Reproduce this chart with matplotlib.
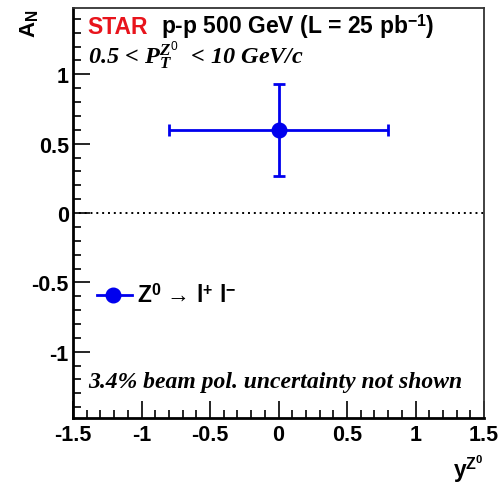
import matplotlib
matplotlib.use("Agg")
import matplotlib.pyplot as plt
from matplotlib.ticker import MultipleLocator

# Z0 -> l+ l- transverse single-spin asymmetry
y_z = [0.0]
y_z_err = [0.8]
a_n = [0.6]
a_n_err = [0.33]

x_ticks = [-1.5, -1, -0.5, 0, 0.5, 1, 1.5]
x_tick_labels = ["-1.5", "-1", "-0.5", "0", "0.5", "1", "1.5"]
y_ticks = [-1, -0.5, 0, 0.5, 1]
y_tick_labels = ["-1", "-0.5", "0", "0.5", "1"]

sans = ["Liberation Sans", "DejaVu Sans"]
serif = ["Liberation Serif", "DejaVu Serif"]
plt.rcParams["mathtext.fontset"] = "custom"
plt.rcParams["mathtext.rm"] = "Liberation Sans"
plt.rcParams["mathtext.bf"] = "Liberation Sans:bold"
plt.rcParams["mathtext.it"] = "Liberation Serif:bold:italic"

fig = plt.figure(figsize=(5.0, 4.89), dpi=100)
ax = fig.add_axes([0.146, 0.1431, 0.822, 0.8384])

ax.set_xlim(-1.5, 1.5)
ax.set_ylim(-1.478, 1.478)

ax.axhline(0, color="black", linestyle=(0, (1, 2)), linewidth=1.4, zorder=1)

blue = "#0000ee"
ax.errorbar(y_z, a_n, xerr=y_z_err, yerr=a_n_err, fmt="o", color=blue,
            markersize=10.5, elinewidth=2, capsize=4.3, capthick=2, zorder=3)

ax.set_xticks(x_ticks)
ax.set_xticklabels(x_tick_labels)
ax.set_yticks(y_ticks)
ax.set_yticklabels(y_tick_labels)
ax.xaxis.set_minor_locator(MultipleLocator(0.1))
ax.yaxis.set_minor_locator(MultipleLocator(0.1))
ax.tick_params(which="both", direction="in", top=False, right=False,
               width=1.2)
ax.tick_params(which="major", length=12)
ax.tick_params(which="minor", length=6)
ax.tick_params(axis="x", pad=4)
ax.tick_params(axis="y", pad=3)
for lab in ax.get_xticklabels() + ax.get_yticklabels():
    lab.set_fontfamily(sans)
    lab.set_fontweight("bold")
    lab.set_fontsize(15.5)
for side in ["left", "bottom"]:
    ax.spines[side].set_linewidth(2.0)
for side in ["top", "right"]:
    ax.spines[side].set_linewidth(1.3)
    ax.spines[side].set_color("#333333")

# Header texts
ax.text(0.036, 0.956, "STAR", transform=ax.transAxes, color="#e8141c",
        fontsize=16.5, fontweight="bold", family=sans, va="center")
ax.text(0.213, 0.956, r"p-p 500 GeV (L = 25 pb$^{\mathbf{-1}}$)",
        transform=ax.transAxes, color="black", fontsize=16.5,
        fontweight="bold", family=sans, va="center")
ax.text(0.036, 0.885, r"0.5 < P$_{T}^{Z^{0}}$  < 10 GeV/c",
        transform=ax.transAxes, fontsize=17.5, fontweight="bold",
        style="italic", family=serif, va="center")

# Legend entry
ax.plot([0.058, 0.144], [0.30, 0.30], transform=ax.transAxes,
        color=blue, linewidth=2)
ax.plot([0.097], [0.30], "o", transform=ax.transAxes, color=blue,
        markersize=10.5)
ax.text(0.155, 0.30, "Z$^{\\mathbf{0}}$ \u2192 l$^{\\mathbf{+}}$ l$^{\\mathbf{-}}$",
        transform=ax.transAxes, fontsize=16.5, fontweight="bold",
        family=sans, va="center")

ax.text(0.036, 0.088, "3.4% beam pol. uncertainty not shown",
        transform=ax.transAxes, fontsize=17, fontweight="bold",
        style="italic", family=serif, va="center")

# Axis titles
fig.text(0.058, 0.952, r"A$_{\mathbf{N}}$", rotation=90, fontsize=16,
         fontweight="bold", family=sans, ha="center", va="center")
fig.text(0.936, 0.04, r"y$^{\mathbf{Z^{0}}}$", fontsize=16.5,
         fontweight="bold", family=sans, ha="center", va="center")

fig.savefig("out.png", dpi=100, facecolor="white")
